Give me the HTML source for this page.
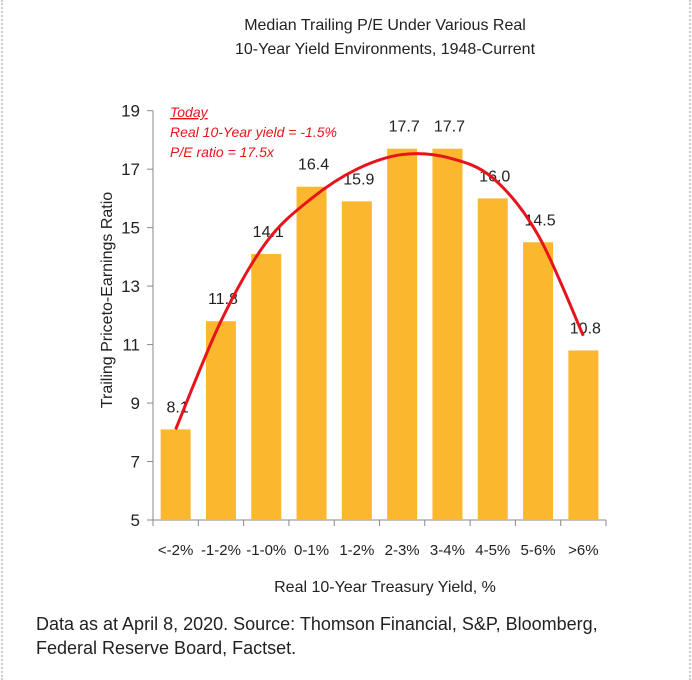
<!DOCTYPE html>
<html><head><meta charset="utf-8"><style>
body{margin:0;background:#fff;}
#wrap{position:relative;width:692px;height:680px;overflow:hidden;font-family:"Liberation Sans",sans-serif;}
#wrap:before{content:"";position:absolute;left:1px;top:0;bottom:0;border-left:2px dotted #ccc;}
#wrap:after{content:"";position:absolute;right:1px;top:0;bottom:0;border-left:2px dotted #ccc;}
.foot{position:absolute;left:36px;top:612px;font-size:18px;line-height:24px;color:#222;}
</style></head><body>
<div id="wrap">
<svg id="chart" width="692" height="680"></svg>
<div class="foot">Data as at April 8, 2020. Source: Thomson Financial, S&amp;P, Bloomberg,<br>Federal Reserve Board, Factset.</div>
</div>
<script>
const categories=["<-2%","-1-2%","-1-0%","0-1%","1-2%","2-3%","3-4%","4-5%","5-6%",">6%"];
const values=[8.1,11.8,14.1,16.4,15.9,17.7,17.7,16.0,14.5,10.8];
const valueLabels=["8.1","11.8","14.1","16.4","15.9","17.7","17.7","16.0","14.5","10.8"];
const trendValues=[8.1,11.8,14.5,16.0,17.0,17.5,17.4,16.7,14.75,11.3];
const yTicks=[5,7,9,11,13,15,17,19];
const svg=document.getElementById('chart');
const NS="http://www.w3.org/2000/svg";
const x0=153,band=45.3,yB=520,yT=110.7,ymin=5,ymax=19;
const y=v=>yB-(v-ymin)/(ymax-ymin)*(yB-yT);
const xc=i=>x0+band*(i+0.5);
function mk(t,a,txt){const e=document.createElementNS(NS,t);for(const k in a)e.setAttribute(k,a[k]);if(txt!==undefined)e.textContent=txt;svg.appendChild(e);return e;}
let e;
e=mk('text',{x:385,y:30,'text-anchor':'middle','font-size':16,fill:'#222'},'Median Trailing P/E Under Various Real');


e=mk('text',{x:385,y:54,'text-anchor':'middle','font-size':16,fill:'#222'},'10-Year Yield Environments, 1948-Current');


e=mk('line',{x1:x0,y1:yT,x2:x0,y2:yB,stroke:'#888','stroke-width':1});


e=mk('line',{x1:x0,y1:yB,x2:x0+band*10,y2:yB,stroke:'#888','stroke-width':1});


yTicks.forEach(t=>{
 e=mk('line',{x1:x0-6,y1:y(t),x2:x0,y2:y(t),stroke:'#888'});
 
 
 e=mk('text',{x:x0-13,y:y(t)+6,'text-anchor':'end','font-size':17,fill:'#222'},String(t));
 
 
});
for(let i=0;i<=10;i++){
 e=mk('line',{x1:x0+band*i,y1:yB,x2:x0+band*i,y2:yB+6,stroke:'#888'});
 
 
}
categories.forEach((c,i)=>{
 e=mk('rect',{x:xc(i)-15,y:y(values[i]),width:30,height:yB-y(values[i]),fill:'#FBB82F'});
 
 
 e=mk('text',{x:xc(i),y:yB+35,'text-anchor':'middle','font-size':15,fill:'#222'},c);
 
 
 e=mk('text',{x:xc(i)+2,y:y(values[i])-17,'text-anchor':'middle','font-size':16,fill:'#222'},valueLabels[i]);
 
 
});
const pts=trendValues.map((v,i)=>[xc(i),y(v)]);
let d='M'+pts[0][0]+','+pts[0][1];
for(let i=0;i<pts.length-1;i++){
 const p0=pts[Math.max(0,i-1)],p1=pts[i],p2=pts[i+1],p3=pts[Math.min(pts.length-1,i+2)];
 const c1=[p1[0]+(p2[0]-p0[0])/6,p1[1]+(p2[1]-p0[1])/6],c2=[p2[0]-(p3[0]-p1[0])/6,p2[1]-(p3[1]-p1[1])/6];
 d+=' C'+c1+' '+c2+' '+p2;
}
e=mk('path',{d:d,fill:'none',stroke:'#E8141B','stroke-width':3});


e=mk('text',{x:170,y:117,'font-size':14,'font-style':'italic',fill:'#E8141B','text-decoration':'underline'},'Today');


e=mk('text',{x:170,y:137,'font-size':14,'font-style':'italic',fill:'#E8141B'},'Real 10-Year yield = -1.5%');


e=mk('text',{x:170,y:157,'font-size':14,'font-style':'italic',fill:'#E8141B'},'P/E ratio = 17.5x');


e=mk('text',{x:0,y:0,transform:'translate(112,300) rotate(-90)','text-anchor':'middle','font-size':16,fill:'#222'},'Trailing Priceto-Earnings Ratio');


e=mk('text',{x:385,y:592,'text-anchor':'middle','font-size':16,fill:'#222'},'Real 10-Year Treasury Yield, %');


</script>
</body></html>
